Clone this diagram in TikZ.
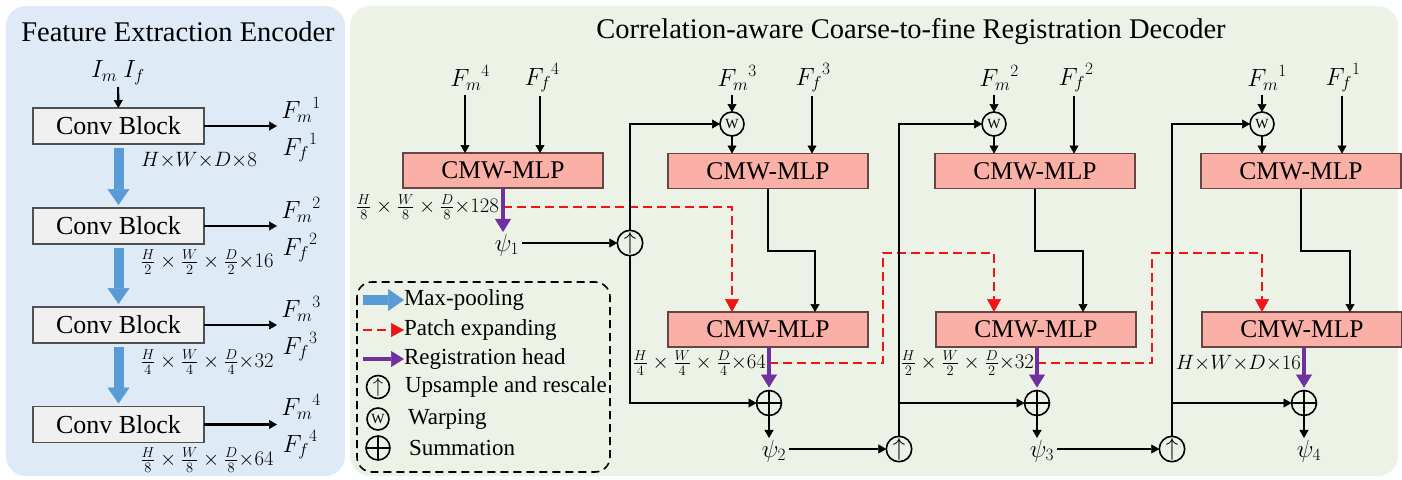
\documentclass[tikz,border=0pt]{standalone}
\usepackage{fontspec}
\setmainfont{Liberation Serif}
\usetikzlibrary{arrows.meta,calc}
\definecolor{encbg}{RGB}{222,234,246}
\definecolor{decbg}{RGB}{236,242,230}
\definecolor{convfill}{RGB}{240,240,240}
\definecolor{convdraw}{RGB}{80,80,80}
\definecolor{mlpfill}{RGB}{250,176,166}
\definecolor{mlpdraw}{RGB}{100,70,70}
\definecolor{poolblue}{RGB}{91,155,213}
\definecolor{regpurple}{RGB}{112,48,160}
\definecolor{patchred}{RGB}{240,20,20}
\newcommand{\tx}{{\times}}
\begin{document}
\begin{tikzpicture}[x=1pt,y=-1pt,
  every node/.style={inner sep=0pt, outer sep=0pt},
  conv/.style={draw=convdraw, fill=convfill, line width=1.3pt, minimum width=171pt, minimum height=36pt, font=\fontsize{26}{26}\selectfont},
  mlp/.style={draw=mlpdraw, fill=mlpfill, line width=1.3pt, minimum width=200pt, minimum height=35pt, font=\fontsize{25.5}{25.5}\selectfont},
  lbl/.style={font=\fontsize{25}{25}\selectfont},
  dimlbl/.style={font=\fontsize{20}{20}\selectfont},
  leg/.style={font=\fontsize{23}{23}\selectfont, anchor=west},
  ttl/.style={font=\fontsize{28.5}{28.5}\selectfont},
  blk/.style={line width=2.1pt, -{Triangle[length=8pt,width=9pt,line width=0.5pt]}},
  pool/.style={draw=poolblue, line width=10pt, -{Triangle[length=16pt,width=22pt,line width=0.5pt]}},
  patch/.style={draw=patchred, line width=2.6pt, dash pattern=on 9pt off 5pt, -{Triangle[length=13pt,width=14pt,line width=0.5pt]}},
  reg/.style={draw=regpurple, line width=3.2pt, -{Triangle[length=13pt,width=16pt,line width=0.5pt]}},
  upc/.style={circle, draw, line width=1.6pt, minimum size=25pt, font=\fontsize{24}{24}\selectfont},
  wc/.style={circle, draw, line width=1.6pt, minimum size=24pt, font=\fontsize{14}{14}\selectfont},
  sumc/.style={circle, draw, line width=1.6pt, minimum size=25pt, path picture={\draw[line width=1.6pt] (path picture bounding box.north) -- (path picture bounding box.south) (path picture bounding box.west) -- (path picture bounding box.east);}},
]
\useasboundingbox (0,0) rectangle (1402,479);
\fill[encbg, rounded corners=20pt] (6,6) rectangle (345,476);
\fill[decbg, rounded corners=20pt] (350,6) rectangle (1398,476);

% ---------- Encoder ----------
\node[ttl] (enct) at (178,32) {Feature Extraction Encoder};
\node[lbl] (inp) at (118,73) {$I_m\ I_f$};
\node[conv] (c1) at (118.5,126) {Conv Block};
\node[conv] (c2) at (118.5,226) {Conv Block};
\node[conv] (c3) at (118.5,325) {Conv Block};
\node[conv] (c4) at (118.5,424.5) {Conv Block};
\draw[blk, shorten <=2pt] (inp) -- (c1);
\draw[pool, shorten <=4pt, shorten >=3pt] (c1) -- (c2);
\draw[pool, shorten <=4pt, shorten >=3pt] (c2) -- (c3);
\draw[pool, shorten <=4pt, shorten >=3pt] (c3) -- (c4);

\node[lbl] (fme1) at (301,110) {${F_m}^{1}$};
\node[lbl] (ffe1) at (300,148) {${F_f}^{1}$};
\node[lbl] (fme2) at (301,210) {${F_m}^{2}$};
\node[lbl] (ffe2) at (300,248) {${F_f}^{2}$};
\node[lbl] (fme3) at (301,309) {${F_m}^{3}$};
\node[lbl] (ffe3) at (300,347) {${F_f}^{3}$};
\node[lbl] (fme4) at (301,407) {${F_m}^{4}$};
\node[lbl] (ffe4) at (300,445) {${F_f}^{4}$};
\coordinate (o1) at (277,126);
\coordinate (o2) at (277,226);
\coordinate (o3) at (277,325);
\coordinate (o4) at (277,424.5);
\draw[blk] (c1) -- (o1);
\draw[blk] (c2) -- (o2);
\draw[blk] (c3) -- (o3);
\draw[blk] (c4) -- (o4);

\node[dimlbl] (de1) at (199,160) {$H\tx W\tx D\tx 8$};
\node[dimlbl] (de2) at (207,262) {$\frac{H}{2}\times\frac{W}{2}\times\frac{D}{2}\tx 16$};
\node[dimlbl] (de3) at (207,362) {$\frac{H}{4}\times\frac{W}{4}\times\frac{D}{4}\tx 32$};
\node[dimlbl] (de4) at (207,460) {$\frac{H}{8}\times\frac{W}{8}\times\frac{D}{8}\tx 64$};

% ---------- Decoder ----------
\node[ttl] (dect) at (911,32) {Correlation-aware Coarse-to-fine Registration Decoder};

\node[mlp] (m1) at (503,170.5) {CMW-MLP};
\node[mlp] (m2) at (768,171) {CMW-MLP};
\node[mlp] (m3) at (1035,171) {CMW-MLP};
\node[mlp] (m4) at (1301,171) {CMW-MLP};
\node[mlp] (b2) at (768,329.5) {CMW-MLP};
\node[mlp] (b3) at (1036,329.5) {CMW-MLP};
\node[mlp] (b4) at (1302,329.5) {CMW-MLP};

\node[wc] (w1) at (732,124) {W};
\node[wc] (w2) at (994,124) {W};
\node[wc] (w3) at (1262,124) {W};

\node[lbl] (fm4) at (470,78) {${F_m}^{4}$};
\node[lbl] (ff4) at (542,78) {${F_f}^{4}$};
\node[lbl] (fm3) at (737,78) {${F_m}^{3}$};
\node[lbl] (ff3) at (813,78) {${F_f}^{3}$};
\node[lbl] (fm2) at (999,78) {${F_m}^{2}$};
\node[lbl] (ff2) at (1076,78) {${F_f}^{2}$};
\node[lbl] (fm1) at (1267,78) {${F_m}^{1}$};
\node[lbl] (ff1) at (1343,78) {${F_f}^{1}$};

\draw[blk, shorten <=4pt] ([xshift=-5pt]fm4.south) -- ([xshift=-5pt]fm4.south |- m1.north);
\draw[blk, shorten <=4pt] ([xshift=-2pt]ff4.south) -- ([xshift=-2pt]ff4.south |- m1.north);
\draw[blk, shorten <=4pt] (fm3.south -| w1) -- (w1);
\draw[blk] (w1) -- (w1 |- m2.north);
\draw[blk, shorten <=4pt] ([xshift=-1pt]ff3.south) -- ([xshift=-1pt]ff3.south |- m2.north);
\draw[blk, shorten <=4pt] (fm2.south -| w2) -- (w2);
\draw[blk] (w2) -- (w2 |- m3.north);
\draw[blk, shorten <=4pt] ([xshift=-2pt]ff2.south) -- ([xshift=-2pt]ff2.south |- m3.north);
\draw[blk, shorten <=4pt] (fm1.south -| w3) -- (w3);
\draw[blk] (w3) -- (w3 |- m4.north);
\draw[blk, shorten <=4pt] ([xshift=-1pt]ff1.south) -- ([xshift=-1pt]ff1.south |- m4.north);

% psi, upsample, sum nodes
\node[lbl] (psi1) at (507,245) {$\psi_1$};
\node[lbl] (psi2) at (774,451) {$\psi_2$};
\node[lbl] (psi3) at (1042,451) {$\psi_3$};
\node[lbl] (psi4) at (1309,451) {$\psi_4$};
\node[upc] (u1) at (630,243) {$\uparrow$};
\node[upc] (u2) at (899,449) {$\uparrow$};
\node[upc] (u3) at (1172,449) {$\uparrow$};
\node[sumc] (s2) at (769,403) {};
\node[sumc] (s3) at (1037,403) {};
\node[sumc] (s4) at (1304,403) {};

% dimension labels
\node[dimlbl, anchor=east] (d1) at (499,207) {$\frac{H}{8}\times\frac{W}{8}\times\frac{D}{8}\tx 128$};
\node[dimlbl, anchor=east] (d2) at (766,363) {$\frac{H}{4}\times\frac{W}{4}\times\frac{D}{4}\tx 64$};
\node[dimlbl, anchor=east] (d3) at (1034,363) {$\frac{H}{2}\times\frac{W}{2}\times\frac{D}{2}\tx 32$};
\node[dimlbl, anchor=east] (d4) at (1301,363) {$H\tx W\tx D\tx 16$};

% black links between CMW-MLPs
\coordinate (j2) at (815,251);
\coordinate (j3) at (1083,251);
\coordinate (j4) at (1350,251);
\draw[blk] (m2) |- (j2) -- (j2 |- b2.north);
\draw[blk] (m3) |- (j3) -- (j3 |- b3.north);
\draw[blk] (m4) |- (j4) -- (j4 |- b4.north);

% patch expanding (red dashed)
\coordinate (r1) at (503,207);
\coordinate (r2) at (769,363);
\coordinate (r3) at (1037,363);
\coordinate (k2) at (883,253);
\coordinate (k3) at (1152,253);
\draw[patch] (r1) -| (w1 |- b2.north);
\draw[patch] (r2) -| (k2) -| (w2 |- b3.north);
\draw[patch] (r3) -| (k3) -| (w3 |- b4.north);

% registration heads (purple)
\draw[reg, shorten >=2pt] (m1.south) -- (m1.south |- psi1.north);
\draw[reg, shorten >=3pt] (b2.south -| s2) -- (s2);
\draw[reg, shorten >=3pt] (b3.south -| s3) -- (s3);
\draw[reg, shorten >=3pt] (b4.south -| s4) -- (s4);

% sum -> psi
\draw[blk, shorten >=2pt] (s2) -- (s2 |- psi2.north);
\draw[blk, shorten >=2pt] (s3) -- (s3 |- psi3.north);
\draw[blk, shorten >=2pt] (s4) -- (s4 |- psi4.north);

% psi -> upsample
\draw[blk, shorten <=3pt] (psi1.east |- u1) -- (u1);
\draw[blk, shorten <=3pt] (psi2.east |- u2) -- (u2);
\draw[blk, shorten <=3pt] (psi3.east |- u3) -- (u3);

% upsample -> warp and sum
\draw[blk] (u1) |- (w1);
\draw[blk] (u1) |- (s2);
\draw[blk] (u2) |- (w2);
\draw[blk] (u2 |- s3) -- (s3);
\draw[blk] (u3) |- (w3);
\draw[blk] (u3 |- s4) -- (s4);

% ---------- Legend ----------
\draw[line width=1.6pt, dash pattern=on 8pt off 5pt, rounded corners=15pt] (357,282) rectangle (610,472);
\node[leg] (l1) at (404,300) {Max-pooling};
\node[leg] (l2) at (404,330) {Patch expanding};
\node[leg] (l3) at (404,359) {Registration head};
\coordinate (l1s) at (363,300);
\coordinate (l2s) at (363,330);
\coordinate (l3s) at (363,359);
\draw[pool] (l1s) -- (l1.west);
\draw[patch] (l2s) -- (l2.west);
\draw[reg] (l3s) -- (l3.west);
\node[upc, minimum size=23pt, font=\fontsize{21}{21}\selectfont] (lu) at (378,387) {$\uparrow$};
\node[leg] (l4) at (405,387) {Upsample and rescale};
\node[wc, minimum size=22pt] (lw) at (378,419) {W};
\node[leg] (l5) at (408,419) {Warping};
\node[sumc, minimum size=24pt] (ls) at (378,448) {};
\node[leg] (l6) at (409,448) {Summation};
\end{tikzpicture}
\end{document}
